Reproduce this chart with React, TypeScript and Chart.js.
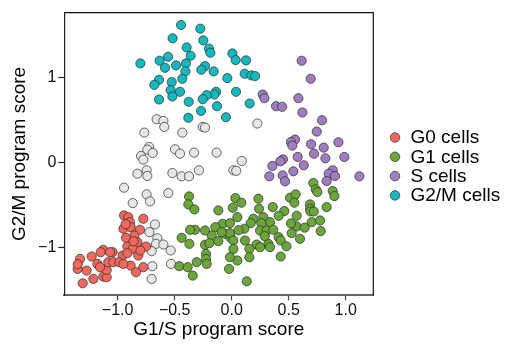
import React, { useEffect, useRef } from "react";
import { Chart, registerables } from "chart.js";

Chart.register(...registerables);

// ---- data ----
const seriesLabels = ["G0 cells", "G1 cells", "S cells", "G2/M cells"];
const seriesColors = ["#F0695C", "#6BA63A", "#A07DC0", "#14B8BF"];
const unassignedColor = "#E6E6E6";

const xTickValues = [-1.0, -0.5, 0.0, 0.5, 1.0];
const xTickLabels = ["\u22121.0", "\u22120.5", "0.0", "0.5", "1.0"];
const yTickValues = [-1, 0, 1];
const yTickLabels = ["\u22121", "0", "1"];

const g0Cells: number[][] = [
  [-0.944, -0.626], [-0.906, -0.646], [-0.892, -0.705], [-0.775, -0.665], [-0.95, -0.783],
  [-0.886, -0.764], [-0.804, -0.795], [-0.854, -0.862], [-0.927, -0.89], [-0.751, -0.992],
  [-0.827, -0.941], [-0.915, -0.992], [-0.868, -1.02], [-0.956, -1.098], [-0.915, -1.071],
  [-0.819, -1.098], [-0.775, -1.236], [-0.886, -1.217], [-0.839, -1.295], [-1.044, -1.059],
  [-1.126, -1.031], [-1.149, -1.059], [-1.228, -1.11], [-1.33, -1.138], [-1.351, -1.256],
  [-1.272, -1.276], [-1.307, -1.425], [-1.213, -1.374], [-1.126, -1.346], [-1.096, -1.354],
  [-1.096, -1.268], [-1.178, -1.197], [-1.082, -1.177], [-1.038, -1.177], [-0.985, -1.177],
  [-0.95, -1.197], [-1.155, -1.236], [-1.067, -1.059], [-0.86, -0.93], [-0.8, -1.04],
  [-1.35, -1.2], [-0.93, -0.73],
];

const g1Cells: number[][] = [
  [-0.374, -0.402], [-0.38, -0.496], [-0.327, -0.555], [-0.117, -0.567], [0.032, -0.421],
  [0.085, -0.476], [0.009, -0.535], [0.234, -0.429], [0.24, -0.547], [0.36, -0.528],
  [0.462, -0.575], [0.412, -0.63], [0.512, -0.417], [0.561, -0.378], [0.55, -0.476],
  [0.716, -0.244], [0.737, -0.319], [0.751, -0.35], [0.886, -0.339], [0.901, -0.398],
  [0.687, -0.496], [0.687, -0.547], [0.69, -0.579], [0.833, -0.528], [0.57, -0.63],
  [0.57, -0.756], [0.526, -0.835], [0.702, -0.705], [0.775, -0.685], [0.781, -0.811],
  [0.599, -0.902], [0.05, -0.646], [0.19, -0.665], [0.278, -0.646], [0.336, -0.705],
  [0.26, -0.717], [0.167, -0.717], [0.111, -0.783], [-0.079, -0.724], [-0.015, -0.717],
  [-0.143, -0.764], [0.249, -0.803], [0.307, -0.803], [0.365, -0.795], [0.412, -0.882],
  [0.43, -0.921], [0.117, -0.921], [0.219, -0.969], [0.322, -0.961], [0.336, -1.0],
  [0.249, -1.0], [0.155, -1.02], [0.155, -1.118], [0.43, -1.11], [-0.175, -0.862],
  [-0.234, -0.803], [-0.322, -0.795], [-0.365, -0.795], [-0.439, -0.89], [-0.371, -0.961],
  [-0.234, -0.972], [-0.196, -0.953], [-0.117, -0.929], [-0.058, -0.843], [-0.009, -0.89],
  [-0.015, -0.835], [-0.088, -0.823], [0.015, -0.921], [0.015, -1.02], [0.05, -1.157],
  [-0.015, -1.118], [-0.023, -1.256], [-0.225, -1.079], [-0.225, -1.138], [-0.307, -1.177],
  [-0.219, -1.197], [-0.459, -1.224], [-0.386, -1.236], [-0.342, -1.335], [0.132, -1.402],
  [0.06, -0.8], [0.29, -0.87], [0.48, -0.99], [0.52, -0.72], [0.64, -0.77], [0.72, -0.58],
];

const sCells: number[][] = [
  [0.614, 1.197], [0.693, 0.984], [0.272, 0.799], [0.287, 0.756], [0.585, 0.756],
  [0.389, 0.661], [0.442, 0.654], [0.62, 0.587], [0.792, 0.496], [0.746, 0.362],
  [0.556, 0.268], [0.52, 0.24], [0.532, 0.197], [0.696, 0.213], [0.807, 0.173],
  [0.936, 0.236], [0.722, 0.102], [0.579, 0.063], [0.822, 0.047], [0.988, 0.063],
  [0.45, 0.035], [0.427, 0.012], [0.357, -0.043], [0.632, -0.035], [0.541, -0.106],
  [0.886, -0.094], [0.851, -0.134], [0.906, -0.161], [0.833, -0.22], [0.33, -0.165],
  [0.447, -0.154], [0.468, -0.224], [1.12, -0.165],
];

const g2mCells: number[][] = [
  [-0.444, 1.618], [-0.275, 1.575], [-0.518, 1.461], [-0.249, 1.437], [-0.395, 1.354],
  [-0.199, 1.339], [-0.187, 1.291], [-0.36, 1.256], [-0.558, 1.244], [0.006, 1.283],
  [0.035, 1.205], [0.126, 1.201], [-0.632, 1.197], [-0.801, 1.165], [-0.488, 1.142],
  [-0.401, 1.165], [-0.585, 1.114], [-0.234, 1.134], [-0.266, 1.091], [-0.406, 1.071],
  [-0.158, 1.071], [0.114, 1.043], [0.173, 1.024], [0.205, 1.016], [-0.038, 0.992],
  [-0.433, 0.984], [-0.637, 0.972], [-0.678, 0.913], [-0.526, 0.945], [-0.535, 0.85],
  [-0.453, 0.831], [-0.52, 0.776], [0.038, 0.831], [-0.137, 0.831], [-0.152, 0.799],
  [-0.219, 0.791], [-0.254, 0.744], [-0.637, 0.74], [-0.377, 0.713], [0.158, 0.693],
  [-0.129, 0.661], [-0.269, 0.606], [-0.38, 0.524], [-0.05, 0.531],
];

const unassignedCells: number[][] = [
  [-0.658, 0.508], [-0.599, 0.488], [-0.591, 0.417], [-0.766, 0.35], [-0.433, 0.35],
  [-0.254, 0.417], [-0.234, 0.409], [0.225, 0.457], [-0.725, 0.181], [-0.74, 0.15],
  [-0.795, 0.075], [-0.775, 0.031], [-0.693, 0.11], [-0.497, 0.154], [-0.453, 0.102],
  [-0.33, 0.114], [-0.132, 0.114], [0.088, 0.016], [0.015, -0.094], [0.04, -0.1],
  [-0.52, -0.126], [-0.439, -0.165], [-0.374, -0.165], [-0.287, -0.094], [-0.827, -0.134],
  [-0.746, -0.094], [-0.74, -0.161], [-0.944, -0.299], [-0.746, -0.378], [-0.716, -0.461],
  [-0.556, -0.362], [-0.868, -0.48], [-0.673, -0.732], [-0.722, -0.823], [-0.652, -0.894],
  [-0.664, -0.961], [-0.599, -0.969], [-0.535, -1.039], [-0.702, -1.047], [-0.532, -1.197],
  [-0.696, -1.224], [-0.702, -1.374],
];

const xRange = [-1.468, 1.242];
const yRange = [-1.567, 1.763];

const FONT = "'Liberation Sans', Arial, Helvetica, sans-serif";

const toPoints = (arr: number[][]) => arr.map(([x, y]) => ({ x, y }));

const panelBorder = {
  id: "panelBorder",
  afterDatasetsDraw(chart: any) {
    const { ctx, chartArea: a } = chart;
    ctx.save();
    ctx.strokeStyle = "#111";
    ctx.lineWidth = 1.2;
    ctx.beginPath();
    ctx.moveTo(a.left, a.top);
    ctx.lineTo(a.right, a.top);
    ctx.lineTo(a.right, a.bottom);
    ctx.stroke();
    ctx.restore();
  },
};

const sideLegend = {
  id: "sideLegend",
  afterDraw(chart: any) {
    const { ctx } = chart;
    ctx.save();
    let row = 0;
    chart.data.datasets.forEach((ds: any) => {
      if (!ds.label) return;
      const cy = 137.5 + row * 19.3;
      ctx.beginPath();
      ctx.arc(395, cy, 4.8, 0, Math.PI * 2);
      ctx.fillStyle = ds.backgroundColor;
      ctx.fill();
      ctx.lineWidth = 0.7;
      ctx.strokeStyle = "#333";
      ctx.stroke();
      ctx.fillStyle = "#000";
      ctx.font = `19px ${FONT}`;
      ctx.textBaseline = "middle";
      ctx.textAlign = "left";
      ctx.fillText(ds.label, 410.5, cy + 0.5);
      row++;
    });
    ctx.restore();
  },
};

export default function App() {
  const ref = useRef<HTMLCanvasElement>(null);

  useEffect(() => {
    if (!ref.current) return;
    const groups = [g0Cells, g1Cells, sCells, g2mCells];
    const datasets: any[] = groups.map((g, i) => ({
      label: seriesLabels[i],
      data: toPoints(g),
      backgroundColor: seriesColors[i],
      borderColor: "#2a2a2a",
      borderWidth: 0.7,
      pointRadius: 4.6,
    }));
    datasets.push({
      label: "",
      data: toPoints(unassignedCells),
      backgroundColor: unassignedColor,
      borderColor: "#2a2a2a",
      borderWidth: 0.7,
      pointRadius: 4.6,
    });

    const chart = new Chart(ref.current, {
      type: "scatter",
      data: { datasets },
      options: {
        responsive: false,
        animation: false,
        layout: { padding: { left: 0, top: 12.7, right: 508 - 373.3, bottom: 0 } },
        plugins: { legend: { display: false }, tooltip: { enabled: false } },
        scales: {
          x: {
            type: "linear",
            min: xRange[0],
            max: xRange[1],
            afterFit: (s: any) => { s.height = 350 - 295.3; },
            afterBuildTicks: (s: any) => { s.ticks = xTickValues.map((v) => ({ value: v })); },
            ticks: {
              callback: (_v: any, i: number) => xTickLabels[i],
              font: { family: FONT, size: 16 },
              color: "#111",
              padding: 1,
              maxRotation: 0,
            },
            grid: { drawOnChartArea: false, drawTicks: true, tickLength: 5, tickColor: "#444", tickWidth: 1.2 },
            border: { display: true, color: "#666", width: 2 },
            title: {
              display: true,
              text: "G1/S program score",
              font: { family: FONT, size: 19 },
              color: "#000",
              padding: { top: 0, bottom: 9 },
            },
          },
          y: {
            type: "linear",
            min: yRange[0],
            max: yRange[1],
            afterFit: (s: any) => { s.width = 64.3; },
            afterBuildTicks: (s: any) => { s.ticks = yTickValues.map((v) => ({ value: v })); },
            ticks: {
              callback: (_v: any, i: number) => yTickLabels[i],
              font: { family: FONT, size: 16 },
              color: "#111",
              padding: 2,
            },
            grid: { drawOnChartArea: false, drawTicks: true, tickLength: 6, tickColor: "#222", tickWidth: 1.2 },
            border: { display: true, color: "#222", width: 1.2 },
            title: {
              display: true,
              text: "G2/M program score",
              font: { family: FONT, size: 19 },
              color: "#000",
              padding: { top: 8, bottom: 0 },
            },
          },
        },
      },
      plugins: [panelBorder, sideLegend],
    });
    return () => chart.destroy();
  }, []);

  return (
    <div style={{ position: "fixed", left: 0, top: 0, width: 508, height: 350, background: "#fff" }}>
      <canvas ref={ref} width={508} height={350} style={{ width: 508, height: 350, display: "block" }} />
    </div>
  );
}
